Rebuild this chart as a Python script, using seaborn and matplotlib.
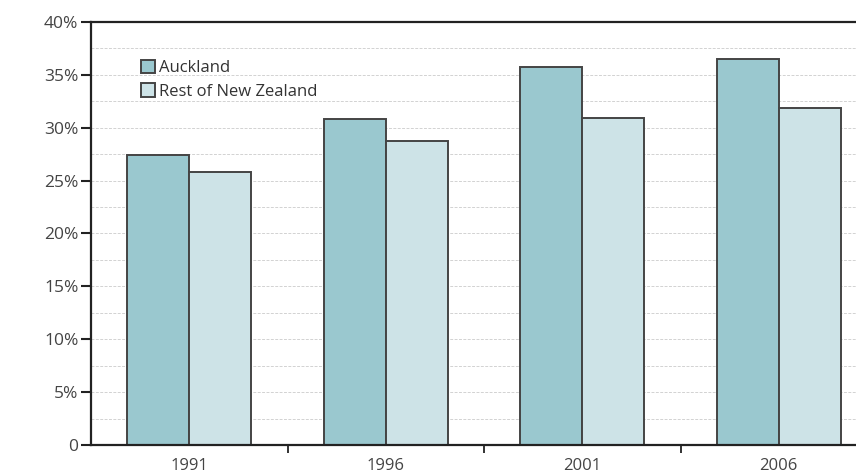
import pandas as pd
import numpy as np
import seaborn as sns
import matplotlib.pyplot as plt
from matplotlib.ticker import FixedLocator, FuncFormatter

# Data (percent)
years = ['1991', '1996', '2001', '2006']
auckland = [27.4, 30.8, 35.7, 36.5]
rest_nz = [25.8, 28.7, 30.9, 31.9]
series_names = ['Auckland', 'Rest of New Zealand']
series_colors = ['#9AC8CF', '#CDE3E7']

df = pd.DataFrame({
    'year': years * 2,
    'share': auckland + rest_nz,
    'region': [series_names[0]] * 4 + [series_names[1]] * 4,
})

sns.set_style('white')
plt.rcParams['font.family'] = ['Open Sans', 'DejaVu Sans']

fig = plt.figure(figsize=(8.56, 4.75), dpi=100)
# axes runs a little past the right edge, as in the reference
ax = fig.add_axes([91 / 856, 30 / 475, 786 / 856, 423 / 475])

sns.barplot(data=df, x='year', y='share', hue='region', order=years,
            hue_order=series_names, palette=series_colors, width=0.63,
            edgecolor='#444444', linewidth=1.4, saturation=1, ax=ax)

ax.set_xlim(-0.5, 3.5)
ax.set_ylim(0, 40)

# dashed grid every 2.5%
for y in np.arange(2.5, 40, 2.5):
    ax.axhline(y, color='#d2d2d2', lw=0.7, ls=(0, (3, 1.5)), zorder=0)

ax.yaxis.set_major_locator(FixedLocator(np.arange(0, 41, 5)))
ax.yaxis.set_major_formatter(FuncFormatter(lambda v, p: '0' if v == 0 else f'{int(v)}%'))
ax.tick_params(axis='y', direction='out', length=7, width=1.5, color='#222222',
               labelsize=12.5, labelcolor='#444444', pad=2, left=True)

ax.set_xticks(range(len(years)))
ax.set_xticklabels(years)
ax.set_xticks([0.5, 1.5, 2.5], minor=True)
ax.tick_params(axis='x', which='major', length=0, labelsize=12,
               labelcolor='#444444', pad=9)
ax.tick_params(axis='x', which='minor', direction='out', length=6, width=1.3,
               color='#222222', bottom=True)

for side in ['left', 'bottom', 'top', 'right']:
    ax.spines[side].set_visible(True)
    ax.spines[side].set_color('#222222')
    ax.spines[side].set_linewidth(1.6)

ax.set_xlabel('')
ax.set_ylabel('')

leg = ax.legend(loc='upper left', bbox_to_anchor=(0.055, 0.926), frameon=False,
                fontsize=12, handlelength=0.85, handleheight=0.85,
                handletextpad=0.25, labelspacing=0.42, borderaxespad=0)
for t in leg.get_texts():
    t.set_color('#333333')

plt.savefig('out.png', dpi=100)
plt.close()
